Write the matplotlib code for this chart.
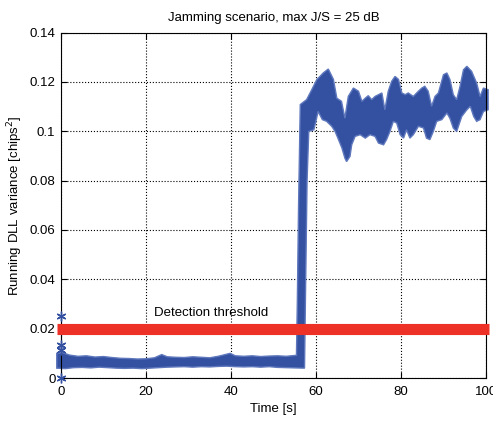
import matplotlib
matplotlib.use("Agg")
import matplotlib.pyplot as plt
import numpy as np

plt.rcParams['font.family'] = ['Liberation Sans Narrow', 'Liberation Sans', 'DejaVu Sans']

# upper edge of the running-variance trace (time [s], variance [chips^2])
t_upper = [-1.0, 0.5, 2, 4, 6, 8, 10, 12, 14, 16, 18, 20, 22, 23.7, 25, 27, 29,
           31, 33, 35, 37, 39.8, 41, 43, 45, 47, 49, 51, 53, 55.4,
           55.6, 55.9, 56.3, 57.8, 59.0, 60.2, 61.7, 62.9, 64.1, 64.9, 66.0,
           66.8, 67.6, 68.8, 70.0, 70.8, 71.6, 72.3, 73.1, 73.9, 74.7, 75.5,
           76.2, 77.0, 77.8, 78.6, 79.4, 80.2, 81.0, 81.7, 82.9, 84.1, 84.9,
           85.6, 86.4, 87.2, 88.0, 88.8, 90.0, 90.8, 91.5, 92.3, 93.1, 93.9,
           94.7, 95.5, 96.6, 97.8, 98.6, 99.4, 100.5]
v_upper = [0.0100, 0.0102, 0.0093, 0.0088, 0.0090, 0.0085, 0.0087, 0.0083,
           0.0080, 0.0079, 0.0077, 0.0078, 0.0082, 0.0095, 0.0086, 0.0084,
           0.0083, 0.0086, 0.0084, 0.0082, 0.0088, 0.0100, 0.0090, 0.0088,
           0.0090, 0.0087, 0.0089, 0.0090, 0.0088, 0.0092,
           0.030, 0.070, 0.1108, 0.1128, 0.1168, 0.1209, 0.1236, 0.1252,
           0.1210, 0.1134, 0.1121, 0.1053, 0.1141, 0.1175, 0.1162, 0.1121,
           0.1134, 0.1144, 0.1128, 0.1141, 0.1148, 0.1155, 0.1087, 0.1162,
           0.1202, 0.1222, 0.1210, 0.1155, 0.1148, 0.1155, 0.1141, 0.1162,
           0.1175, 0.1182, 0.1162, 0.1101, 0.1141, 0.1155, 0.1229, 0.1236,
           0.1210, 0.1148, 0.1128, 0.1182, 0.1249, 0.1263, 0.1243, 0.1195,
           0.1141, 0.1175, 0.1168]

# lower edge of the same trace
t_lower = [-1.0, 1, 3, 5, 7, 9, 11, 13, 15, 17, 19, 21, 23, 25, 27, 29, 31,
           33, 35, 37, 39, 41, 43, 45, 47, 49, 51, 53, 55, 57.3,
           57.5, 57.9, 58.3, 59.5, 60.5, 61.5, 62.5, 63.7, 64.5, 65.3, 66.1,
           66.8, 67.2, 68.0, 68.4, 69.2, 70.4, 71.6, 72.7, 73.9, 74.7, 75.9,
           76.6, 77.4, 78.2, 79.0, 79.8, 80.6, 81.3, 82.1, 82.9, 84.1, 85.3,
           86.0, 86.8, 87.6, 88.4, 89.6, 90.8, 91.5, 92.3, 93.1, 94.3, 95.5,
           96.3, 97.1, 97.8, 98.6, 99.4, 100.5]
v_lower = [0.0040, 0.0038, 0.0042, 0.0043, 0.0041, 0.0044, 0.0042, 0.0040,
           0.0039, 0.0040, 0.0038, 0.0040, 0.0042, 0.0044, 0.0045, 0.0046,
           0.0044, 0.0046, 0.0045, 0.0047, 0.0048, 0.0046, 0.0045, 0.0046,
           0.0044, 0.0046, 0.0043, 0.0042, 0.0041, 0.0040,
           0.030, 0.080, 0.0999, 0.1006, 0.1080, 0.1047, 0.1040, 0.1020,
           0.0999, 0.0966, 0.0932, 0.0891, 0.0877, 0.0898, 0.0945, 0.0979,
           0.0986, 0.0972, 0.0986, 0.0979, 0.0952, 0.0945, 0.0966, 0.0999,
           0.1040, 0.1033, 0.0986, 0.0972, 0.1006, 0.0972, 0.0986, 0.1020,
           0.1013, 0.0972, 0.0966, 0.0999, 0.1040, 0.1047, 0.1074, 0.1053,
           0.1013, 0.0999, 0.1060, 0.1087, 0.1101, 0.1060, 0.1040, 0.1047,
           0.1080, 0.1087]

# first samples of the running variance at t = 0
t_start = [0, 0, 0, 0]
v_start = [0.0252, 0.0134, 0.0114, 0.0]

threshold = 0.02
threshold_span = [-0.9, 100.7]
x_ticks = [0, 20, 40, 60, 80, 100]
y_ticks = [0, 0.02, 0.04, 0.06, 0.08, 0.1, 0.12, 0.14]
y_ticklabels = ['0', '0.02', '0.04', '0.06', '0.08', '0.1', '0.12', '0.14']

blue = '#3451a1'
red = '#ee3127'

fig = plt.figure(figsize=(4.93, 4.21), dpi=100)
ax = fig.add_axes([0.1237, 0.1021, 0.8621, 0.8207])

# trace as a filled band between its envelopes
poly_t = np.r_[t_upper, t_lower[::-1]]
poly_v = np.r_[v_upper, v_lower[::-1]]
ax.fill(poly_t, poly_v, facecolor=blue, edgecolor='#5f78bd', linewidth=1.0,
        clip_on=False, zorder=2)
ax.plot(t_start, v_start, '-', color=blue, linewidth=0.8, clip_on=False, zorder=2)
ax.plot(t_start, v_start, linestyle='none', marker=(6, 2, 0), color=blue,
        markersize=7, markeredgewidth=1.0, clip_on=False, zorder=4)

ax.plot(threshold_span, [threshold, threshold], color=red, linewidth=8,
        solid_capstyle='butt', clip_on=False, zorder=3)
ax.text(21.8, 0.0265, 'Detection threshold', fontsize=9.5, va='center', ha='left')

ax.set_xlim(0, 100)
ax.set_ylim(0, 0.14)
ax.set_xticks(x_ticks)
ax.set_yticks(y_ticks)
ax.set_yticklabels(y_ticklabels)
ax.tick_params(direction='in', top=True, right=True, length=4, width=0.8,
               labelsize=9.5, pad=4)
ax.tick_params(axis='x', pad=6)
ax.grid(True, linestyle=':', color='black', linewidth=0.8)
ax.set_axisbelow(True)
for s in ax.spines.values():
    s.set_linewidth(0.8)

ax.set_title('Jamming scenario, max J/S = 25 dB', fontsize=9.5, pad=8)
ax.set_xlabel('Time [s]', fontsize=9.5, labelpad=3)
ax.set_ylabel('Running DLL variance [chips$^2$]', fontsize=9.5, labelpad=3)

fig.savefig('out.png', dpi=100)
